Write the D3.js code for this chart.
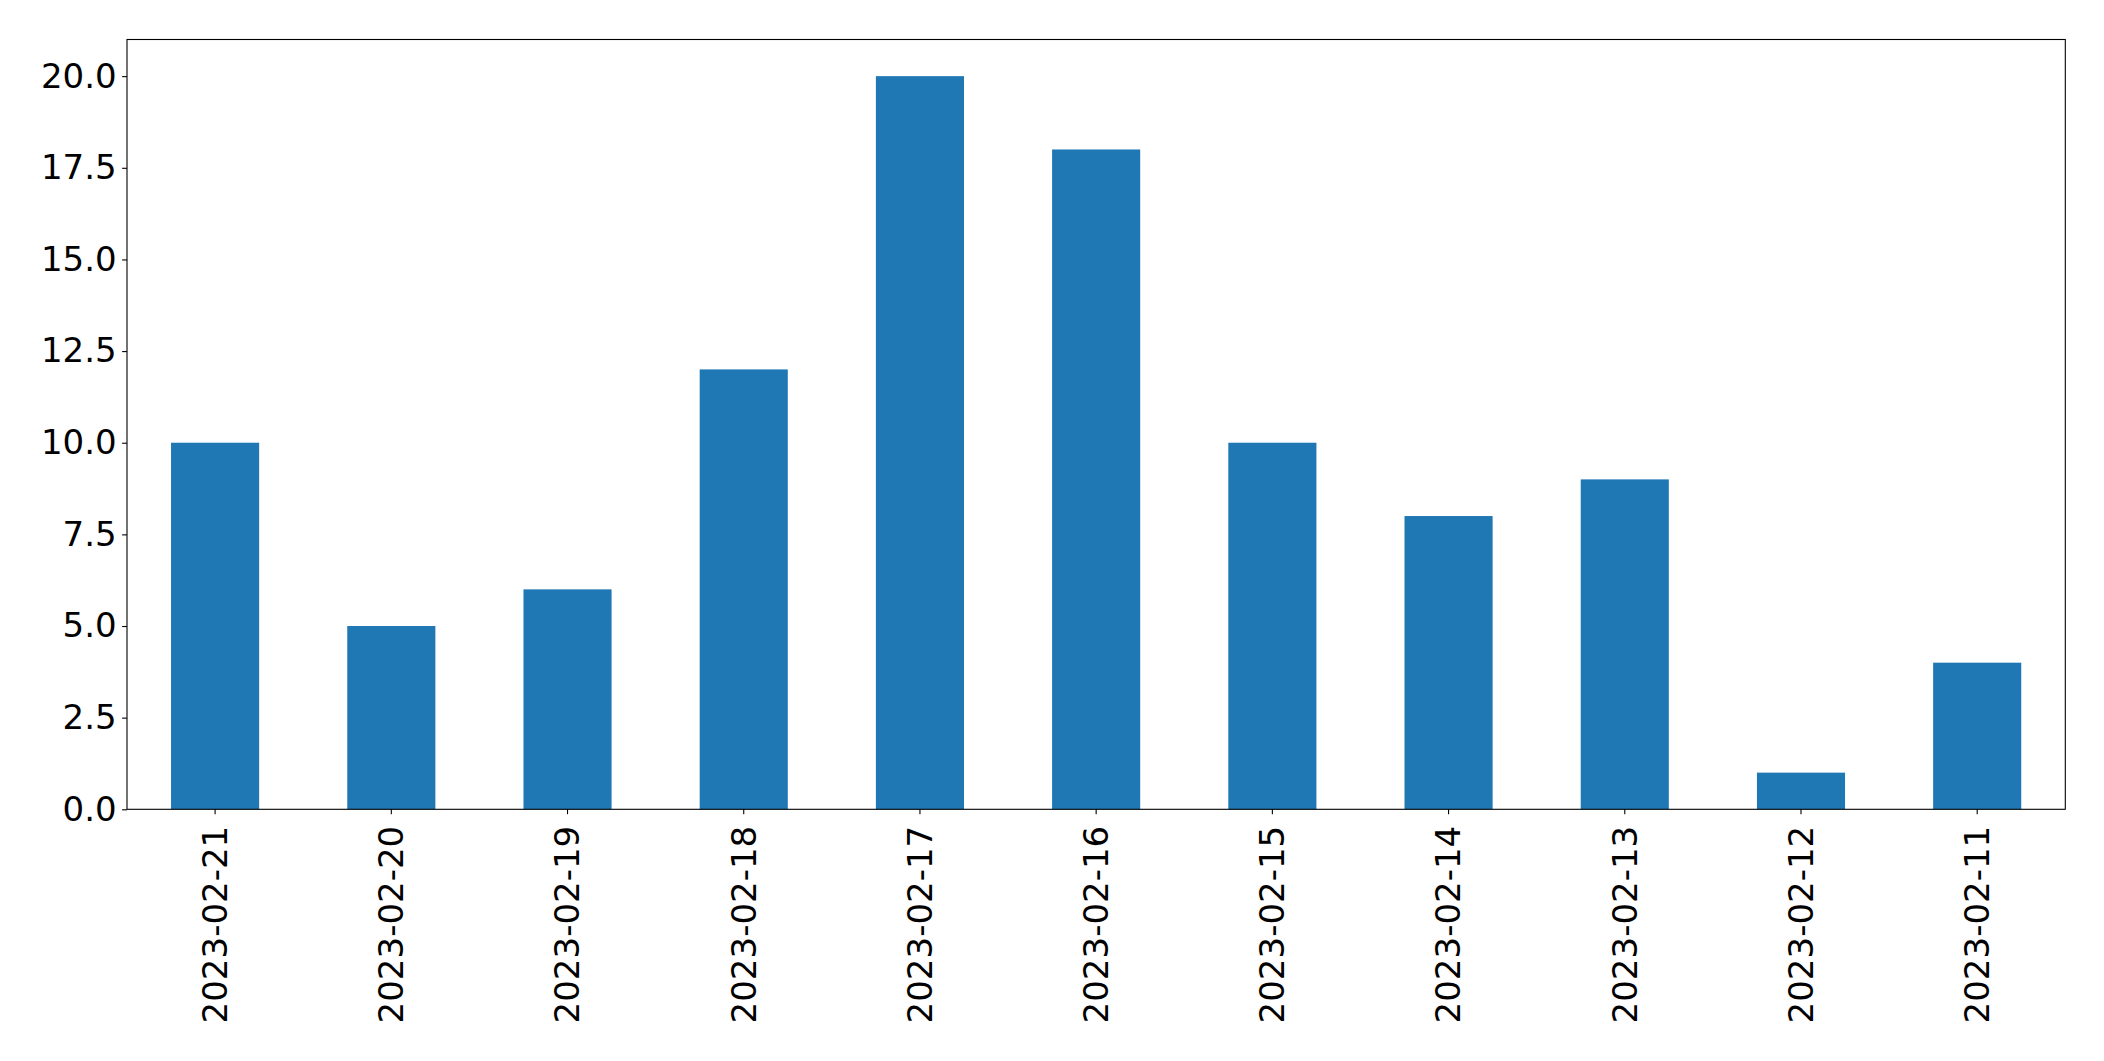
<!DOCTYPE html>
<html><head><meta charset="utf-8">
<script src="https://cdn.jsdelivr.net/npm/d3@7"></script>
<style>body{margin:0;background:#fff}svg{display:block}</style>
</head><body>
<script>
const categories = ["2023-02-21","2023-02-20","2023-02-19","2023-02-18","2023-02-17","2023-02-16","2023-02-15","2023-02-14","2023-02-13","2023-02-12","2023-02-11"];
const values = [10,5,6,12,20,18,10,8,9,1,4];
const yTicks = [0,2.5,5,7.5,10,12.5,15,17.5,20];

const W=2104,H=1061;
const m={left:127,right:2065.3,top:39.5,bottom:809.3};
const svg=d3.select("body").append("svg").attr("width",W).attr("height",H);
const x=d3.scaleBand().domain(categories).range([m.left,m.right]).paddingInner(0.5).paddingOuter(0.25);
const y=d3.scaleLinear().domain([0,21]).range([m.bottom,m.top]);
const font="'DejaVu Sans', sans-serif";
const fs=34;

svg.append("g").selectAll("rect").data(values).join("rect")
  .attr("x",(d,i)=>x(categories[i])).attr("width",x.bandwidth())
  .attr("y",d=>y(d)).attr("height",d=>y(0)-y(d)).attr("fill","#1f77b4");

const ya=svg.append("g").attr("transform",`translate(${m.left},0)`)
  .call(d3.axisLeft(y).tickValues(yTicks).tickFormat(d3.format(".1f")).tickSize(4.9).tickPadding(5.5));
ya.select(".domain").remove();
ya.selectAll("text").attr("font-family",font).attr("font-size",fs).attr("fill","#000");
ya.selectAll("line").attr("stroke","#000").attr("stroke-width",1.1);

const xa=svg.append("g").attr("transform",`translate(0,${m.bottom})`)
  .call(d3.axisBottom(x).tickSize(4.9).tickPadding(0));
xa.select(".domain").remove();
xa.selectAll("line").attr("stroke","#000").attr("stroke-width",1.1);
xa.selectAll("text").attr("font-family",font).attr("font-size",fs).attr("fill","#000")
  .attr("transform","translate(0,16.5) rotate(-90)").attr("text-anchor","end").attr("dy","0.35em").attr("x",0).attr("y",0);

svg.append("rect").attr("x",m.left).attr("y",m.top).attr("width",m.right-m.left).attr("height",m.bottom-m.top)
  .attr("fill","none").attr("stroke","#000").attr("stroke-width",1.1);
</script>
</body></html>
